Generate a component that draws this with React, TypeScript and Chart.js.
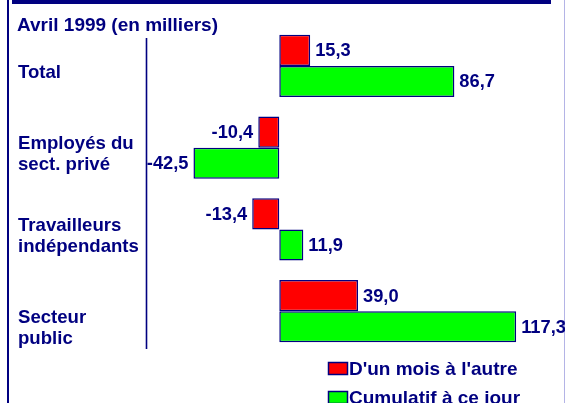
import { useEffect, useRef } from "react";
import { Chart, registerables } from "chart.js";

Chart.register(...registerables);

const categories: (string | string[])[] = [
  "Total",
  ["Employés du", "sect. privé"],
  ["Travailleurs", "indépendants"],
  ["", "Secteur", "public"],
];
const monthly = [15.3, -10.4, -13.4, 39.0];
const cumulative = [86.7, -42.5, 11.9, 117.3];
const seriesNames = ["D'un mois à l'autre", "Cumulatif à ce jour"];
const titleText = "Avril 1999 (en milliers)";

const NAVY = "#000080";
const FONT_FAMILY = "'Liberation Sans', Arial, sans-serif";
const FONT = `bold 18.3px ${FONT_FAMILY}`;
const TITLE_FONT = `bold 19px ${FONT_FAMILY}`;
const LEGEND_FONT = `bold 19px ${FONT_FAMILY}`;

const fmt = (v: number) => v.toFixed(1).replace(".", ",");

const decorPlugin = {
  id: "decor",
  afterDraw(chart: any) {
    const ctx = chart.ctx as CanvasRenderingContext2D;
    const area = chart.chartArea;
    ctx.save();
    // title
    ctx.font = TITLE_FONT;
    ctx.fillStyle = NAVY;
    ctx.textAlign = "left";
    ctx.textBaseline = "alphabetic";
    ctx.fillText(titleText, 17, 31);
    // category axis line
    ctx.strokeStyle = NAVY;
    ctx.lineWidth = 1.6;
    ctx.beginPath();
    ctx.moveTo(area.left + 0.5, area.top + 13);
    ctx.lineTo(area.left + 0.5, area.bottom - 3);
    ctx.stroke();
    // value labels
    ctx.font = FONT;
    ctx.textBaseline = "middle";
    chart.data.datasets.forEach((ds: any, di: number) => {
      const meta = chart.getDatasetMeta(di);
      meta.data.forEach((bar: any, i: number) => {
        const v = ds.data[i] as number;
        const { x, y } = bar.getProps(["x", "y"], true);
        if (v >= 0) {
          ctx.textAlign = "left";
          ctx.fillText(fmt(v), x + 5, y + 1);
        } else {
          ctx.textAlign = "right";
          ctx.fillText(fmt(v), x - 5, y + 1);
        }
      });
    });
    // legend
    const lx = 328;
    const ly = 362;
    const rowH = 29;
    ctx.font = LEGEND_FONT;
    chart.data.datasets.forEach((ds: any, di: number) => {
      const top = ly + di * rowH;
      ctx.fillStyle = ds.backgroundColor;
      ctx.fillRect(lx, top, 20, 13);
      ctx.strokeStyle = NAVY;
      ctx.lineWidth = 1.5;
      ctx.strokeRect(lx + 0.5, top + 0.5, 19, 12);
      ctx.fillStyle = NAVY;
      ctx.textAlign = "left";
      ctx.textBaseline = "alphabetic";
      ctx.fillText(ds.label, lx + 21, top + 13);
    });
    ctx.restore();
  },
};

export default function App() {
  const ref = useRef<HTMLCanvasElement>(null);
  useEffect(() => {
    if (!ref.current) return;
    const chart = new Chart(ref.current, {
      type: "bar",
      data: {
        labels: categories,
        datasets: [
          {
            label: seriesNames[0],
            data: monthly,
            backgroundColor: "#ff0000",
            borderColor: NAVY,
            borderWidth: 1.5,
            borderSkipped: false,
          },
          {
            label: seriesNames[1],
            data: cumulative,
            backgroundColor: "#00ff00",
            borderColor: NAVY,
            borderWidth: 1.5,
            borderSkipped: false,
          },
        ],
      },
      options: {
        indexAxis: "y",
        animation: false,
        responsive: false,
        maintainAspectRatio: false,
        layout: { padding: { left: 18, right: 3, top: 25, bottom: 51 } },
        plugins: {
          legend: { display: false },
          title: { display: false },
          tooltip: { enabled: false },
        },
        datasets: {
          bar: { categoryPercentage: 0.76, barPercentage: 1 },
        },
        scales: {
          x: {
            display: false,
            min: -66,
            max: 140,
          },
          y: {
            position: "left",
            grid: { display: false, drawTicks: false },
            border: { display: false },
            afterFit: (scale: any) => {
              scale.width = 128;
              scale.paddingTop = 0;
              scale.paddingBottom = 0;
            },
            ticks: {
              crossAlign: "far",
              color: NAVY,
              padding: 6,
              labelOffset: 7,
              font: { family: FONT_FAMILY, size: 18.6, weight: "bold", lineHeight: 1.13 },
            },
          },
        },
      },
      plugins: [decorPlugin],
    });
    return () => chart.destroy();
  }, []);

  return (
    <div style={{ position: "fixed", left: 0, top: 0, width: 565, height: 403, background: "#fff", overflow: "hidden" }}>
      <div style={{ position: "absolute", left: 7, top: 0, width: 2, height: 403, background: NAVY }} />
      <div style={{ position: "absolute", left: 12, top: 0, width: 539, height: 4, background: NAVY }} />
      <div style={{ position: "absolute", left: 564, top: 0, width: 1, height: 403, background: "#b4b4e6" }} />
      <canvas ref={ref} width={565} height={403} style={{ position: "absolute", left: 0, top: 0, width: 565, height: 403 }} />
    </div>
  );
}
